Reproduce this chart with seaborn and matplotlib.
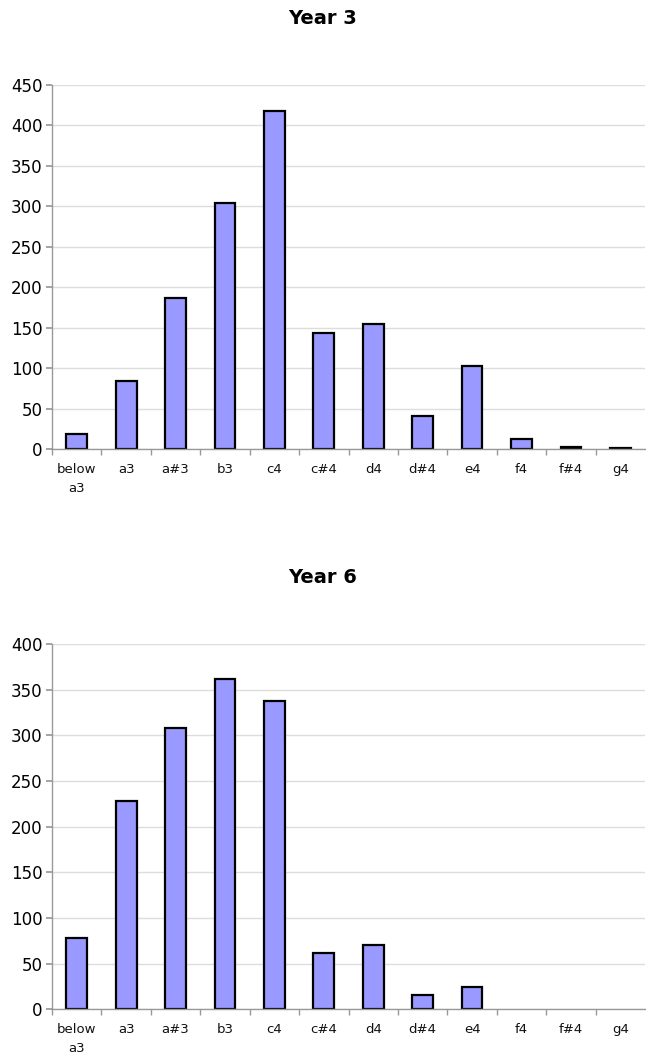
import matplotlib
matplotlib.use("Agg")
import matplotlib.pyplot as plt
import seaborn as sns
import pandas as pd
import numpy as np

# data
notes = ['below\na3', 'a3', 'a#3', 'b3', 'c4', 'c#4', 'd4', 'd#4', 'e4', 'f4', 'f#4', 'g4']
year3 = [19, 84, 187, 304, 417, 143, 154, 41, 103, 12, 2, 1]
year6 = [78, 228, 308, 361, 337, 62, 70, 16, 24, 0, 0, 0]

sns.set_theme(style='white')
plt.rcParams['font.family'] = ['DejaVu Sans']
plt.rcParams['text.color'] = 'black'

fig = plt.figure(figsize=(6.46, 10.59), dpi=100)

panels = [
    ('Year 3', year3, [0.0805, 0.576, 0.918, 0.344], 450, 0.983),
    ('Year 6', year6, [0.0805, 0.047, 0.918, 0.345], 400, 0.455),
]

for title, vals, rect, ymax, ty in panels:
    ax = fig.add_axes(rect)
    df = pd.DataFrame({'note': notes, 'count': vals})
    sns.barplot(data=df, x='note', y='count', color='#9999ff', saturation=1,
                edgecolor='black', linewidth=1.6, width=0.42, ax=ax)
    # empty categories get no outline
    for p in ax.patches:
        if p.get_height() == 0:
            p.set_linewidth(0)
    ax.set_xlim(-0.5, len(notes) - 0.5)
    ax.set_ylim(0, ymax)
    ax.set_yticks(np.arange(0, ymax + 1, 50))
    ax.yaxis.grid(True, color='#dddddd', linewidth=1)
    ax.set_axisbelow(True)
    for s in ['top', 'right']:
        ax.spines[s].set_visible(False)
    for s in ['left', 'bottom']:
        ax.spines[s].set_color('#999999')
        ax.spines[s].set_linewidth(1)
    ax.set_xlabel('')
    ax.set_ylabel('')
    ax.tick_params(axis='x', which='major', length=0, labelsize=9.5, pad=10, labelcolor='#111111')
    ax.set_xticks(np.arange(-0.5, len(notes) - 1, 1), minor=True)
    ax.tick_params(axis='x', which='minor', length=4, color='#999999', bottom=True)
    ax.tick_params(axis='y', length=4, color='#999999', labelsize=12, left=True, pad=3,
                   labelcolor='black')
    for lab in ax.get_xticklabels():
        lab.set_verticalalignment('top')
        lab.set_linespacing(1.6)
    fig.text(0.5, ty, title, ha='center', va='center', fontsize=14, fontweight='bold',
             color='black')

fig.savefig('out.png', dpi=100)
